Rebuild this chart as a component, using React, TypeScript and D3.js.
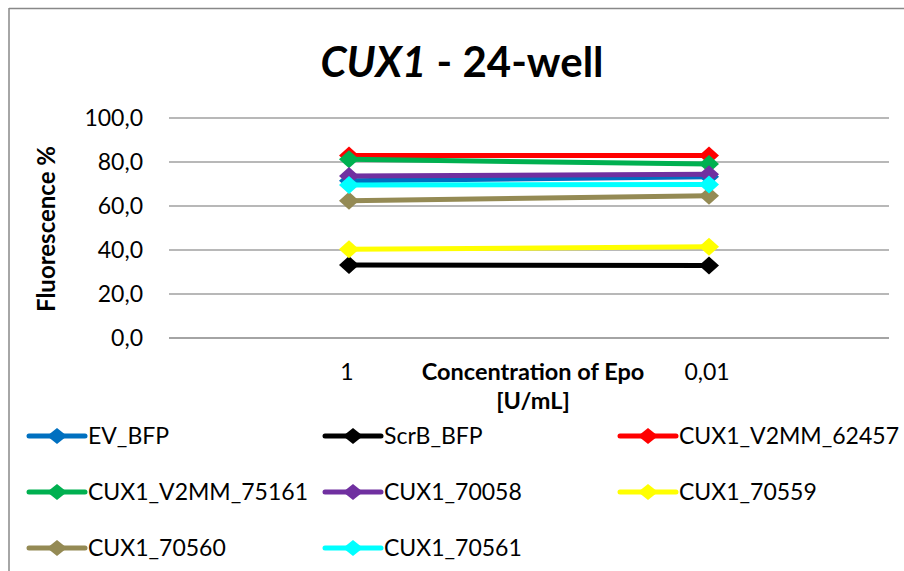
import React from "react";
import * as d3 from "d3";

const categories = ["1", "0,01"];
const seriesNames = ["EV_BFP", "ScrB_BFP", "CUX1_V2MM_62457", "CUX1_V2MM_75161", "CUX1_70058", "CUX1_70559", "CUX1_70560", "CUX1_70561"];
const seriesColors = ["#0070C0", "#000000", "#FF0000", "#00B050", "#7030A0", "#FFFF00", "#948A54", "#00FFFF"];
const ev = [71.5, 73.3];
const scrb = [33.2, 32.9];
const v62457 = [83.0, 82.9];
const v75161 = [81.2, 79.1];
const c70058 = [73.6, 74.4];
const c70559 = [40.3, 41.5];
const c70560 = [62.4, 64.7];
const c70561 = [69.5, 69.8];
const seriesValues = [ev, scrb, v62457, v75161, c70058, c70559, c70560, c70561];
const yTicks = [0, 20, 40, 60, 80, 100];

const W = 904, H = 571;
const FONT = "Lato, 'Open Sans', sans-serif";

export default function App() {
  const x = d3.scaleBand().domain(categories).range([169, 889]);
  const y = d3.scaleLinear().domain([0, 100]).range([338, 118]);
  const cx = (i: number) => (x(categories[i]) as number) + x.bandwidth() / 2;
  const line = d3.line<number>().x((_, i) => cx(i)).y((d) => y(d));
  const diamond = (px: number, py: number, rx: number, ry: number) => `M${px},${py - ry}L${px + rx},${py}L${px},${py + ry}L${px - rx},${py}Z`;
  const fmt = (v: number) => v.toFixed(1).replace(".", ",");
  const legCols = [29, 325, 620];
  const legRows = [436, 492, 548];
  return (
    <svg width={W} height={H} style={{ position: "absolute", left: 0, top: 0 }} fontFamily={FONT}>
      <rect x={0} y={0} width={W} height={H} fill="#fff" />
      <line x1={9} y1={8.5} x2={W} y2={8.5} stroke="#888" strokeWidth={1.5} />
      <line x1={9} y1={8} x2={9} y2={H} stroke="#888" strokeWidth={1.5} />
      <text x={462} y={77} textAnchor="middle" fontSize={42} fontWeight="bold">
        <tspan fontStyle="italic">CUX1</tspan>
        <tspan> - 24-well</tspan>
      </text>
      {yTicks.map((t) => (
        <g key={t}>
          <line x1={169} x2={889} y1={y(t)} y2={y(t)} stroke={t === 0 ? "#868686" : "#a0a0a0"} strokeWidth={1.5} />
          <text x={143} y={y(t)} dy="0.36em" textAnchor="end" fontSize={23}>{fmt(t)}</text>
        </g>
      ))}
      <text transform="translate(55,229) rotate(-90)" textAnchor="middle" fontSize={24} fontWeight="bold">Fluorescence %</text>
      {categories.map((c, i) => (
        <text key={c} x={cx(i) - 2} y={380} textAnchor="middle" fontSize={23}>{c}</text>
      ))}
      <text x={533} y={380} textAnchor="middle" fontSize={23.5} fontWeight="bold">Concentration of Epo</text>
      <text x={533} y={409} textAnchor="middle" fontSize={23.5} fontWeight="bold">[U/mL]</text>
      {seriesValues.map((vals, si) => (
        <g key={si}>
          <path d={line(vals) || ""} fill="none" stroke={seriesColors[si]} strokeWidth={5} strokeLinejoin="round" />
          {vals.map((v, i) => (
            <path key={i} d={diamond(cx(i), y(v), 10, 9)} fill={seriesColors[si]} />
          ))}
        </g>
      ))}
      {seriesNames.map((n, i) => {
        const lx = legCols[i % 3];
        const ly = legRows[Math.floor(i / 3)];
        return (
          <g key={n}>
            <line x1={lx} x2={lx + 56} y1={ly} y2={ly} stroke={seriesColors[i]} strokeWidth={5} strokeLinecap="round" />
            <path d={diamond(lx + 28, ly, 10, 8)} fill={seriesColors[i]} />
            <text x={lx + 59} y={ly} dy="0.36em" fontSize={23}>{n}</text>
          </g>
        );
      })}
    </svg>
  );
}
